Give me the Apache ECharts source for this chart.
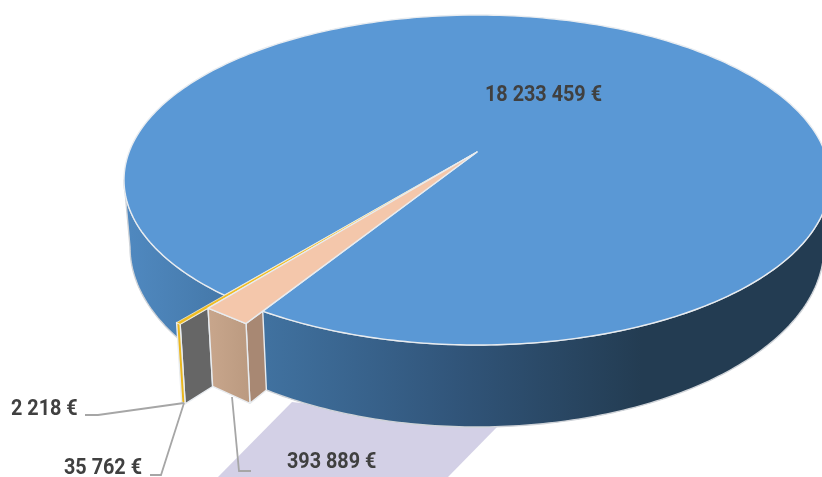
<!DOCTYPE html>
<html><head><meta charset="utf-8">
<style>html,body{margin:0;padding:0;background:#fff}#c{width:822px;height:477px}</style>
<script src="https://cdn.jsdelivr.net/npm/echarts@6/dist/echarts.min.js"></script>
</head><body><div id="c"></div>
<script>
const categories = ['A', 'B', 'C', 'D'];
const values = [18233459, 393889, 35762, 2218];
const valueLabels = ['18 233 459 €', '393 889 €', '35 762 €', '2 218 €'];

// layout
const START = 135.7;
const TOP = {cx:477, cy:180, rx:353, ry:165, ax:477, ay:152};
const BOT = {cx:477, cy:247, rx:347, ry:180, ax:477, ay:219};
const K1 = 1.078, K2 = 1.19;
const FONT = 'bold 22px Roboto, sans-serif';
const TEXT_SCALE = 0.9;
const LABEL_POS = [[485,95],[287,462],[64,468],[11,409]];
const LEADERS = [null, [[232,397],[239,471],[251,471]], [[150,475],[161,475],[184,403]], [[85,415],[98,415],[184,403]]];

const total = values.reduce((a,b)=>a+b,0);
let acc = START;
const spans = values.map(v => { const s = acc, e = acc + v/total*360; acc = e; return [s,e]; });

const rim = (E,t,k) => { const r=t*Math.PI/180;
  const x=E.cx+E.rx*Math.cos(r), y=E.cy+E.ry*Math.sin(r);
  return [E.ax+(x-E.ax)*(k||1), E.ay+(y-E.ay)*(k||1)]; };
const edge = '#e8ecf0';
const poly = (pts, fill, z2, stroke, lw) => ({type:'polygon', z2, silent:true, shape:{points:pts},
  style:{fill, stroke:stroke||edge, lineWidth:lw===undefined?1.4:lw, lineJoin:'round'}});
const wallFill = new echarts.graphic.LinearGradient(130,0,822,0,[
  {offset:0,color:'#4f88bf'},{offset:0.2,color:'#40719f'},{offset:0.47,color:'#31557a'},
  {offset:0.74,color:'#233c52'},{offset:1,color:'#233c52'}],true);
const peachWall = new echarts.graphic.LinearGradient(208,0,250,0,[
  {offset:0,color:'#c8a68c'},{offset:1,color:'#bb9a80'}],true);

function renderItem(params, api){
  const i = params.dataIndex, [s,e] = spans[i], ch = [];
  if(i===0){
    const a=[],b=[];
    for(let t=0;t<=180;t+=1){a.push(rim(TOP,t));b.unshift(rim(BOT,t));}
    ch.push(poly(a.concat(b),wallFill,1,'#cfd3d8',1.4));
    const top=[[TOP.ax,TOP.ay]];
    for(let t=s;t<e;t+=1) top.push(rim(TOP,t));
    top.push(rim(TOP,e));
    ch.push(poly(top,'#5a98d5',2));
  } else if(i===1){
    const pl=rim(TOP,e,K1), pr=rim(TOP,s,K1), r=rim(TOP,s);
    const bl=rim(BOT,e,K1), br=rim(BOT,s,K1), rb=rim(BOT,s);
    ch.push(poly([r,pr,br,rb],'#a88873',5));
    ch.push(poly([pl,pr,br,bl],peachWall,5));
    ch.push(poly([[TOP.ax,TOP.ay],pl,pr,r],'#f4c7ab',7));
  } else if(i===2){
    const ins=rim(TOP,s,K1), insB=rim(BOT,s,K1), o=rim(TOP,s,K2), oB=rim(BOT,s,K2), o2=rim(TOP,e,K2), o2B=rim(BOT,e,K2);
    ch.push(poly([ins,o,oB,insB],'#666666',3));
    ch.push(poly([o2,o,oB,o2B],'#eab71f',4));
    ch.push(poly([[TOP.ax,TOP.ay],o2,o,ins],'#f0bd22',6,'#f3f0e4',0.7));
  }
  const [lx,ly]=LABEL_POS[i];
  ch.push({type:'text', z2:9, silent:true, x:lx, y:ly, scaleX:TEXT_SCALE, scaleY:1,
    style:{text:valueLabels[i], x:0, y:0, font:FONT, fill:'#404040',
    align:'left', verticalAlign:'middle', textAlign:'left', textVerticalAlign:'middle'}});
  if(LEADERS[i]) ch.push({type:'polyline', z2:8, silent:true, shape:{points:LEADERS[i]},
    style:{fill:'none', stroke:'#a6a6a6', lineWidth:1.8}});
  return {type:'group', children:ch};
}

const chart = echarts.init(document.getElementById('c'), null, {renderer:'canvas', width:822, height:477});
chart.setOption({
  animation:false,
  backgroundColor:'#fff',
  graphic:{elements:[{type:'polygon', z:0, silent:true, shape:{points:[[292,402],[498,426],[448,477],[218,477]]}, style:{fill:'#d3d0e6'}}]},
  series:[{type:'custom', coordinateSystem:'none', z:2, renderItem, clip:false,
    data:categories.map((n,i)=>({name:n, value:values[i]}))}]
});
</script></body></html>
